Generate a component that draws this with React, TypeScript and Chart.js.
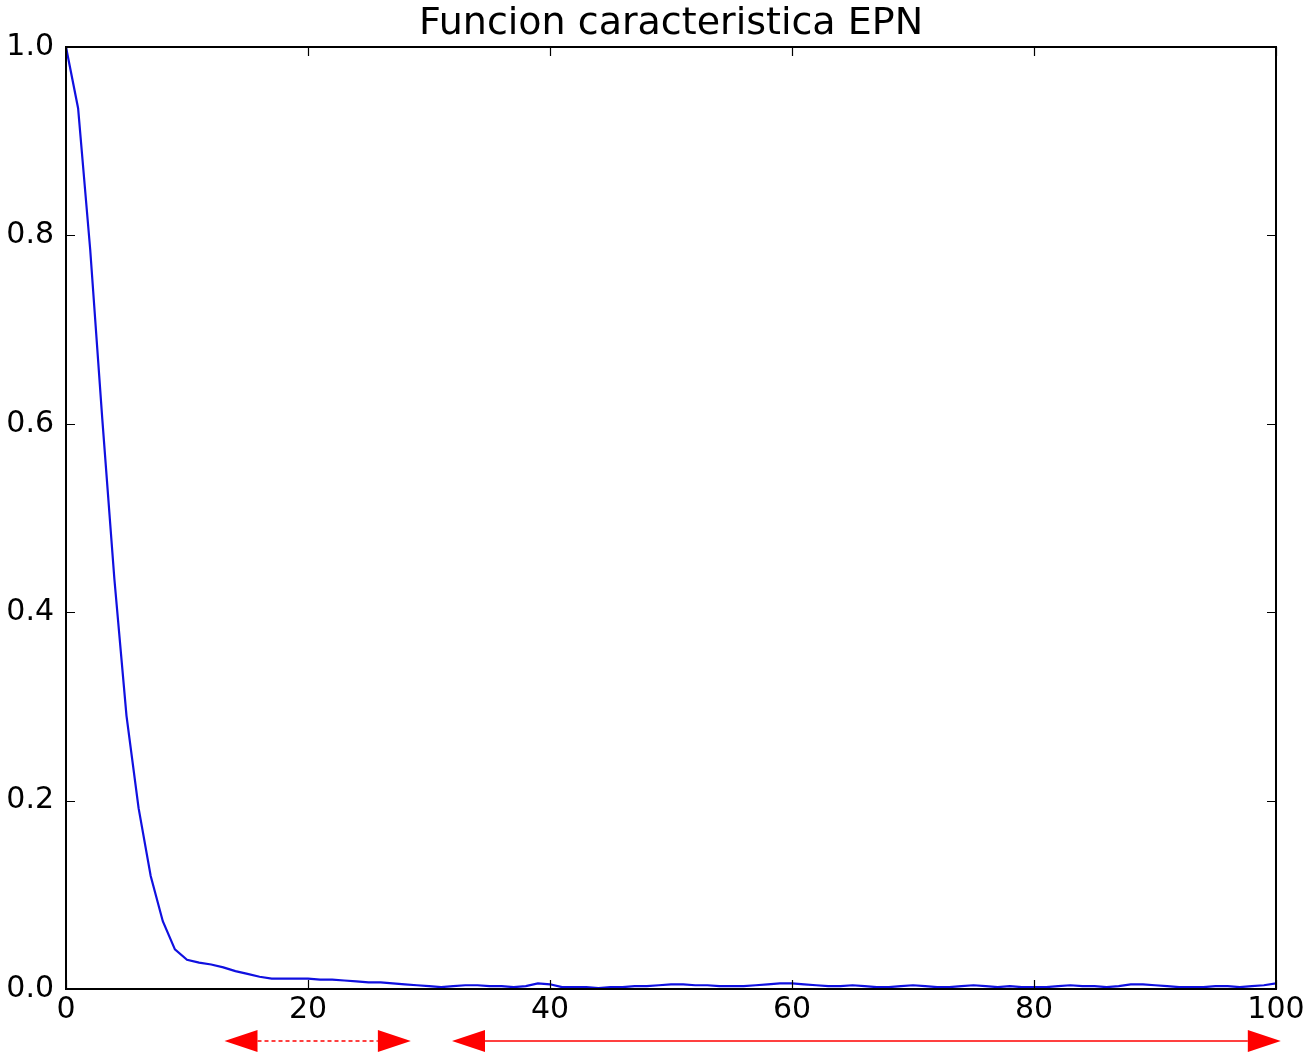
import React, { useEffect, useRef } from "react";
import { Chart, registerables } from "chart.js";

Chart.register(...registerables);

const TITLE = "Funcion caracteristica EPN";
const X_TICKS = [0, 20, 40, 60, 80, 100];
const Y_TICKS = [0, 0.2, 0.4, 0.6, 0.8, 1.0];
// characteristic function values at lag 0..100
const EPN_VALUES = [
  1.0, 0.935, 0.785, 0.605, 0.435, 0.29, 0.192, 0.12, 0.072, 0.042,
  0.031, 0.028, 0.026, 0.023, 0.019, 0.016, 0.013, 0.011, 0.011, 0.011,
  0.011, 0.01, 0.01, 0.009, 0.008, 0.007, 0.007, 0.006, 0.005, 0.004,
  0.003, 0.002, 0.003, 0.004, 0.004, 0.003, 0.003, 0.002, 0.003, 0.006,
  0.005, 0.002, 0.002, 0.002, 0.001, 0.002, 0.002, 0.003, 0.003, 0.004,
  0.005, 0.005, 0.004, 0.004, 0.003, 0.003, 0.003, 0.004, 0.005, 0.006,
  0.006, 0.005, 0.004, 0.003, 0.003, 0.004, 0.003, 0.002, 0.002, 0.003,
  0.004, 0.003, 0.002, 0.002, 0.003, 0.004, 0.003, 0.002, 0.003, 0.002,
  0.002, 0.002, 0.003, 0.004, 0.003, 0.003, 0.002, 0.003, 0.005, 0.005,
  0.004, 0.003, 0.002, 0.002, 0.002, 0.003, 0.003, 0.002, 0.003, 0.004,
  0.006,
];
// annotation arrows below the x axis, in x data units
const ARROW_DASHED = [13.1, 28.5];
const ARROW_SOLID = [31.9, 100.4];

const FONT = "'DejaVu Sans', sans-serif";

const framePlugin = {
  id: "frame",
  afterDraw(chart: any) {
    const { ctx, chartArea } = chart;
    const xs = chart.scales.x;
    const ys = chart.scales.y;
    const { left, right, top, bottom } = chartArea;
    ctx.save();

    // title centred over the plot area
    ctx.fillStyle = "#000";
    ctx.font = `38px ${FONT}`;
    ctx.textAlign = "center";
    ctx.textBaseline = "alphabetic";
    ctx.fillText(TITLE, (left + right) / 2, top - 13);

    ctx.strokeStyle = "#000";
    ctx.lineWidth = 2;
    ctx.strokeRect(left, top, right - left, bottom - top);
    ctx.lineWidth = 1.2;
    const tl = 9;
    ctx.beginPath();
    for (const v of X_TICKS) {
      const px = Math.round(xs.getPixelForValue(v)) + 0.5;
      ctx.moveTo(px, bottom);
      ctx.lineTo(px, bottom - tl);
      ctx.moveTo(px, top);
      ctx.lineTo(px, top + tl);
    }
    for (const v of Y_TICKS) {
      const py = Math.round(ys.getPixelForValue(v)) + 0.5;
      ctx.moveTo(left, py);
      ctx.lineTo(left + tl, py);
      ctx.moveTo(right, py);
      ctx.lineTo(right - tl, py);
    }
    ctx.stroke();

    // arrows
    const ay = bottom + 52;
    const drawArrow = (range: number[], dashed: boolean) => {
      const x0 = xs.getPixelForValue(range[0]);
      const x1 = xs.getPixelForValue(range[1]);
      const hl = 33;
      const hw = 11;
      ctx.strokeStyle = "#ff0000";
      ctx.fillStyle = "#ff0000";
      ctx.lineWidth = 1.3;
      ctx.setLineDash(dashed ? [4, 3] : []);
      ctx.beginPath();
      ctx.moveTo(x0 + hl, ay);
      ctx.lineTo(x1 - hl, ay);
      ctx.stroke();
      ctx.setLineDash([]);
      ctx.beginPath();
      ctx.moveTo(x0, ay);
      ctx.lineTo(x0 + hl, ay - hw);
      ctx.lineTo(x0 + hl, ay + hw);
      ctx.closePath();
      ctx.fill();
      ctx.beginPath();
      ctx.moveTo(x1, ay);
      ctx.lineTo(x1 - hl, ay - hw);
      ctx.lineTo(x1 - hl, ay + hw);
      ctx.closePath();
      ctx.fill();
    };
    drawArrow(ARROW_DASHED, true);
    drawArrow(ARROW_SOLID, false);
    ctx.restore();
  },
};

export default function App() {
  const ref = useRef<HTMLCanvasElement | null>(null);
  useEffect(() => {
    document.body.style.margin = "0";
    const canvas = ref.current;
    if (!canvas) return;
    const chart = new Chart(canvas, {
      type: "line",
      data: {
        datasets: [
          {
            data: EPN_VALUES.map((v, i) => ({ x: i, y: v })),
            borderColor: "#1010e0",
            borderWidth: 2.2,
            pointRadius: 0,
            tension: 0,
            fill: false,
          },
        ],
      },
      options: {
        responsive: false,
        animation: false,
        layout: { padding: { left: 0, right: 29, top: 47, bottom: 0 } },
        plugins: {
          legend: { display: false },
          tooltip: { enabled: false },
          title: { display: false },
        },
        scales: {
          x: {
            type: "linear",
            min: 0,
            max: 100,
            afterBuildTicks: (s: any) => {
              s.ticks = X_TICKS.map((v) => ({ value: v }));
            },
            afterFit: (s: any) => {
              s.height = 65;
              s.paddingLeft = 0;
              s.paddingRight = 0;
            },
            grid: { display: false, drawTicks: false },
            border: { display: false },
            ticks: {
              color: "#000",
              font: { family: FONT, size: 30 },
              padding: 3,
              maxRotation: 0,
              autoSkip: false,
              callback: (v: any) => String(v),
            },
          },
          y: {
            type: "linear",
            min: 0,
            max: 1,
            afterBuildTicks: (s: any) => {
              s.ticks = Y_TICKS.map((v) => ({ value: v }));
            },
            afterFit: (s: any) => {
              s.width = 66;
              s.paddingTop = 0;
              s.paddingBottom = 0;
            },
            grid: { display: false, drawTicks: false },
            border: { display: false },
            ticks: {
              color: "#000",
              font: { family: FONT, size: 30 },
              padding: 12,
              autoSkip: false,
              callback: (v: any) => Number(v).toFixed(1),
            },
          },
        },
      },
      plugins: [framePlugin],
    });
    return () => chart.destroy();
  }, []);
  return (
    <div style={{ width: 1305, height: 1054 }}>
      <canvas ref={ref} width={1305} height={1054} />
    </div>
  );
}
